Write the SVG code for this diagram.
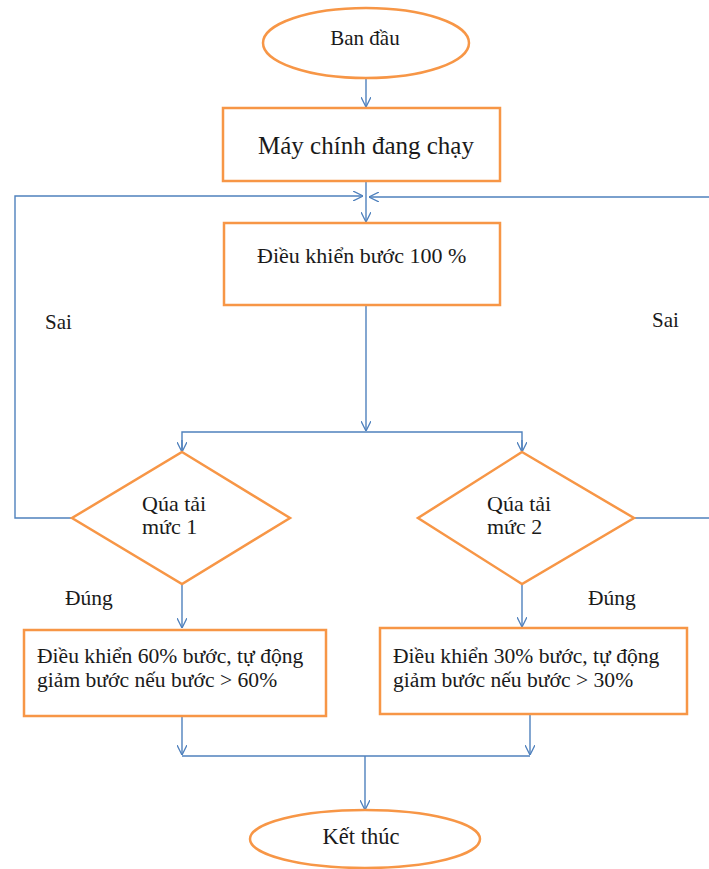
<svg xmlns="http://www.w3.org/2000/svg" width="709" height="869" viewBox="0 0 709 869">
<defs>
<marker id="arr" viewBox="0 0 10 10" refX="10" refY="5" markerWidth="10" markerHeight="10" markerUnits="userSpaceOnUse" orient="auto">
<path d="M0,0 L10,5 L0,10" fill="none" stroke="#4f81bd" stroke-width="1.3"/>
</marker>
</defs>
<style>
.n{fill:#fff;stroke:#f79646;stroke-width:2.5}
.c{fill:none;stroke:#4f81bd;stroke-width:1.4}
text{fill:#1a1a1a}
</style>
<rect width="709" height="869" fill="#fff"/>
<g id="connectors">
<path class="c" d="M366,78 V107" marker-end="url(#arr)"/>
<path class="c" d="M366,181 V222" marker-end="url(#arr)"/>
<path class="c" d="M72,518 H15 V196 H363" marker-end="url(#arr)"/>
<path class="c" d="M634,518 H712 V197 H369" marker-end="url(#arr)"/>
<path class="c" d="M366,305 V431" marker-end="url(#arr)"/>
<path class="c" d="M182,452 V432 H522 V452"/>
<path class="c" d="M182,440 V452" marker-end="url(#arr)"/>
<path class="c" d="M522,440 V452" marker-end="url(#arr)"/>
<path class="c" d="M182,584 V628" marker-end="url(#arr)"/>
<path class="c" d="M522,584 V627" marker-end="url(#arr)"/>
<path class="c" d="M182,716 V755" marker-end="url(#arr)"/>
<path class="c" d="M530,714 V755" marker-end="url(#arr)"/>
<path class="c" d="M182,756 H530"/>
<path class="c" d="M365,756 V810" marker-end="url(#arr)"/>
</g>
<g font-family="'Liberation Serif', 'DejaVu Serif', serif">
<g id="start">
<ellipse class="n" cx="366" cy="43" rx="103" ry="35"/>
<text x="365" y="45" font-size="21" text-anchor="middle">Ban đầu</text>
</g>
<g id="running">
<rect class="n" x="223" y="108" width="277" height="73"/>
<text x="366" y="154" font-size="25" text-anchor="middle">Máy chính đang chạy</text>
</g>
<g id="step100">
<rect class="n" x="224" y="223" width="276" height="82"/>
<text x="257" y="263" font-size="22">Điều khiển bước 100 %</text>
</g>
<g id="overload1">
<polygon class="n" points="182,452 290,518 182,584 72,518"/>
<text x="142" y="511" font-size="22">Qúa tải</text>
<text x="142" y="534" font-size="22">mức 1</text>
</g>
<g id="overload2">
<polygon class="n" points="522,452 634,518 522,584 418,518"/>
<text x="487" y="511" font-size="22">Qúa tải</text>
<text x="487" y="534" font-size="22">mức 2</text>
</g>
<g id="step60">
<rect class="n" x="24" y="630" width="302" height="86"/>
<text x="37" y="663" font-size="21.6">Điều khiển 60% bước, tự động</text>
<text x="37" y="687" font-size="21.6">giảm bước nếu bước &gt; 60%</text>
</g>
<g id="step30">
<rect class="n" x="380" y="628" width="307" height="86"/>
<text x="393" y="663" font-size="21.6">Điều khiển 30% bước, tự động</text>
<text x="393" y="687" font-size="21.6">giảm bước nếu bước &gt; 30%</text>
</g>
<g id="end">
<ellipse class="n" cx="365" cy="839" rx="115" ry="29"/>
<text x="361" y="844" font-size="22.5" text-anchor="middle">Kết thúc</text>
</g>
<g id="labels">
<text x="45" y="329" font-size="21">Sai</text>
<text x="652" y="327" font-size="21">Sai</text>
<text x="65" y="605" font-size="21.5">Đúng</text>
<text x="588" y="605" font-size="21.5">Đúng</text>
</g>
</g>
</svg>
